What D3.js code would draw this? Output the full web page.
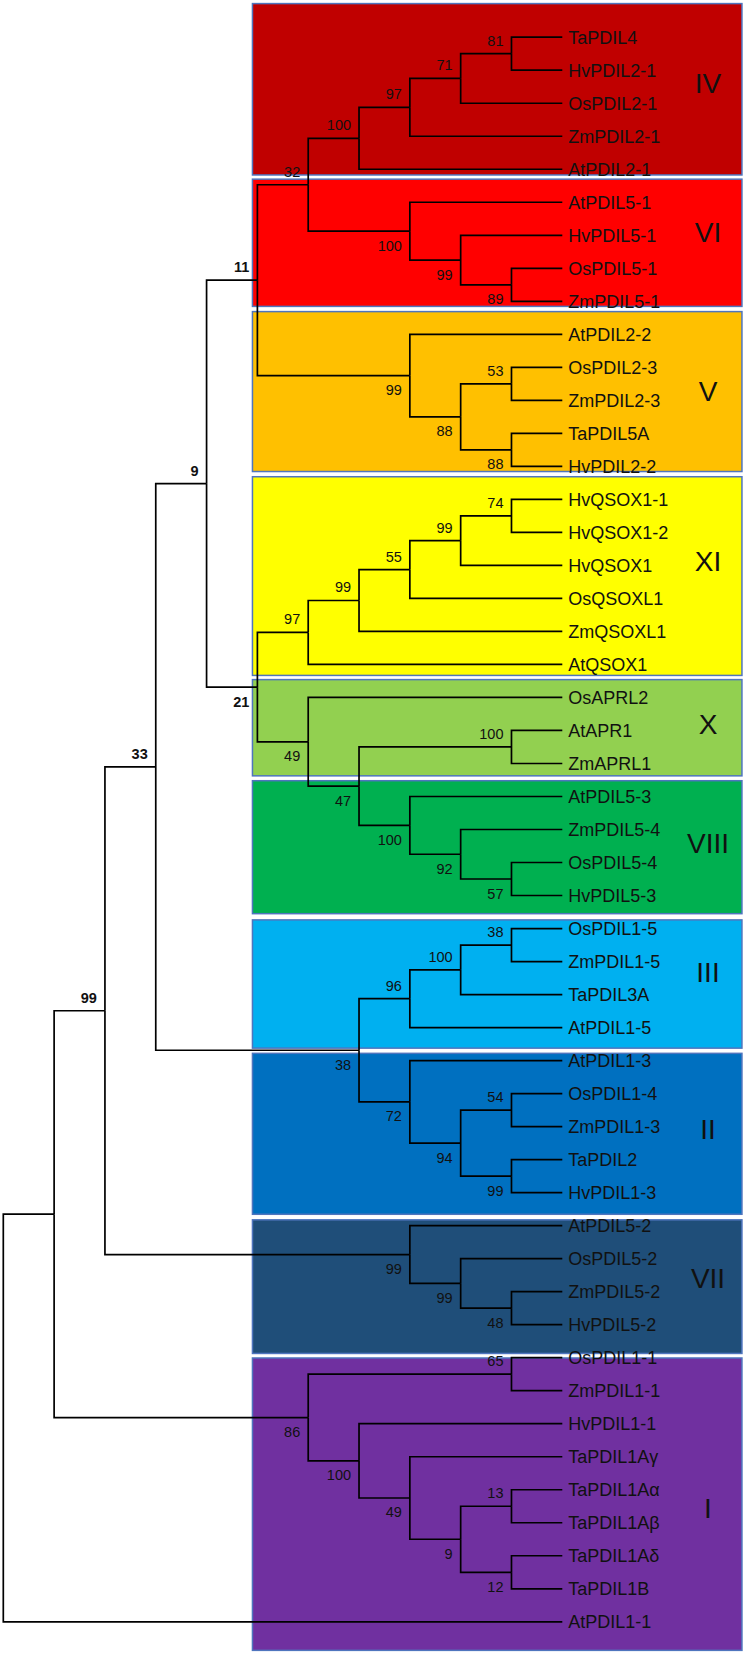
<!DOCTYPE html>
<html>
<head>
<meta charset="utf-8">
<script src="https://cdn.jsdelivr.net/npm/d3@7"></script>
<style>
  html, body { margin: 0; padding: 0; background: #fff; }
  svg { display: block; }
</style>
</head>
<body>
<svg id="chart" width="746" height="1654"></svg>
<script>
// ---------------- DATA ----------------
// Sub-trees (Newick), internal labels = bootstrap support
const cladeIV   = "((((TaPDIL4,HvPDIL2-1)81,OsPDIL2-1)71,ZmPDIL2-1)97,AtPDIL2-1)100";
const cladeVI   = "(AtPDIL5-1,(HvPDIL5-1,(OsPDIL5-1,ZmPDIL5-1)89)99)100";
const cladeV    = "(AtPDIL2-2,((OsPDIL2-3,ZmPDIL2-3)53,(TaPDIL5A,HvPDIL2-2)88)88)99";
const cladeXI   = "(((((HvQSOX1-1,HvQSOX1-2)74,HvQSOX1)99,OsQSOXL1)55,ZmQSOXL1)99,AtQSOX1)97";
const cladeX    = "(AtAPR1,ZmAPRL1)100";
const cladeVIII = "(AtPDIL5-3,(ZmPDIL5-4,(OsPDIL5-4,HvPDIL5-3)57)92)100";
const cladeIII  = "(((OsPDIL1-5,ZmPDIL1-5)38,TaPDIL3A)100,AtPDIL1-5)96";
const cladeII   = "(AtPDIL1-3,((OsPDIL1-4,ZmPDIL1-3)54,(TaPDIL2,HvPDIL1-3)99)94)72";
const cladeVII  = "(AtPDIL5-2,(OsPDIL5-2,(ZmPDIL5-2,HvPDIL5-2)48)99)99";
const cladeI    = "((OsPDIL1-1,ZmPDIL1-1)65,(HvPDIL1-1,(TaPDIL1Aγ,((TaPDIL1Aα,TaPDIL1Aβ)13,(TaPDIL1Aδ,TaPDIL1B)12)9)49)100)86";

const treeNewick =
  "(((((((" + cladeIV + "," + cladeVI + ")32," + cladeV + ")11," +
  "(" + cladeXI + ",(OsAPRL2,(" + cladeX + "," + cladeVIII + ")47)49)21)9," +
  "(" + cladeIII + "," + cladeII + ")38)33," +
  cladeVII + ")99," + cladeI + "),AtPDIL1-1);";

// Coloured groups
const groupNames  = ["IV", "VI", "V", "XI", "X", "VIII", "III", "II", "VII", "I"];
const groupColors = ["#C00000", "#FF0000", "#FFC000", "#FFFF00", "#92D050", "#00B050", "#00B0F0", "#0070C0", "#1F4E79", "#7030A0"];
// Extent of each coloured band, in leaf-row units (row 0 = first leaf)
const groupTopRow    = [-0.53, 4.68, 8.61, 13.51, 19.53, 22.53, 26.66, 30.62, 35.56, 39.66];
const groupBottomRow = [4.60, 8.50, 13.40, 19.45, 22.43, 26.52, 30.51, 35.44, 39.57, 48.38];
// Row where each group's numeral sits
const groupLabelRow  = [1.85, 6.27, 11.0, 16.02, 20.88, 24.41, 28.22, 32.89, 37.32, 44.14];

// ---------------- PARSER ----------------
function parseNewick(s) {
  let i = 0;
  function readName() {
    const start = i;
    while (i < s.length && !",();".includes(s[i])) i++;
    return s.slice(start, i).trim();
  }
  function node() {
    if (s[i] === "(") {
      i++;
      const children = [];
      children.push(node());
      while (s[i] === ",") { i++; children.push(node()); }
      i++; // ')'
      const lab = readName();
      return { children, support: lab };
    }
    return { name: readName() };
  }
  return node();
}

// ---------------- LAYOUT ----------------
const W = 746, H = 1654;
const originX = 3.3, originY = 20.7;
const treeWidth = 559;          // root -> leaf tip
const treeHeight = 1617.6;      // first leaf -> last leaf
const boxLeft = 251.7, boxRight = 742.7;

const rootNode = d3.hierarchy(parseNewick(treeNewick), d => d.children);
const cluster = d3.cluster().size([treeHeight, treeWidth]).separation(() => 1);
cluster(rootNode);

const PX = d => originX + d.y;
const PY = d => originY + d.x;

const leaves = rootNode.leaves();
const rowScale = d3.scaleLinear().domain([0, leaves.length - 1]).range([originY, originY + treeHeight]);

const svg = d3.select("#chart");
svg.append("rect").attr("width", W).attr("height", H).attr("fill", "#fff");

// ---------------- BOXES ----------------
const groups = groupNames.map((n, k) => ({
  name: n,
  r0: groupTopRow[k],
  r1: groupBottomRow[k],
  color: groupColors[k],
  row: groupLabelRow[k]
}));

svg.append("g").selectAll("rect").data(groups).join("rect")
  .attr("x", boxLeft + 0.75)
  .attr("width", boxRight - boxLeft - 1.5)
  .attr("y", d => rowScale(d.r0) + 0.75)
  .attr("height", d => rowScale(d.r1) - rowScale(d.r0) - 1.5)
  .attr("fill", d => d.color)
  .attr("stroke", "#4F75BE")
  .attr("stroke-width", 1.5);

svg.append("g").selectAll("text").data(groups).join("text")
  .attr("x", 708)
  .attr("y", d => rowScale(d.row))
  .attr("dy", "0.36em")
  .attr("text-anchor", "middle")
  .attr("font-family", "'Liberation Sans', Arial, Helvetica, sans-serif")
  .attr("font-size", 28)
  .attr("fill", "#111")
  .text(d => d.name);

// ---------------- BRANCHES ----------------
svg.append("g")
  .attr("fill", "none")
  .attr("stroke", "#000")
  .attr("stroke-width", 1.7)
  .selectAll("path").data(rootNode.links()).join("path")
  .attr("d", l => `M${PX(l.source)},${PY(l.source)}V${PY(l.target)}H${PX(l.target)}`);

// ---------------- LEAF LABELS ----------------
svg.append("g").selectAll("text").data(leaves).join("text")
  .attr("x", d => PX(d) + 6)
  .attr("y", d => PY(d))
  .attr("dy", "0.36em")
  .attr("font-family", "'Liberation Sans', Arial, Helvetica, sans-serif")
  .attr("font-size", 18)
  .attr("fill", "#111")
  .text(d => d.data.name);

// ---------------- SUPPORT VALUES ----------------
const internal = rootNode.descendants().filter(d => d.children && d.data.support);
svg.append("g").selectAll("text").data(internal).join("text")
  .attr("x", d => PX(d) - 8)
  .attr("y", d => {
    const upper = d.parent && d.parent.children[0] === d;
    return upper ? PY(d) - 8 : PY(d) + 19.5;
  })
  .attr("text-anchor", "end")
  .attr("font-family", "'Liberation Sans', Arial, Helvetica, sans-serif")
  .attr("font-size", 14.5)
  .attr("font-weight", d => (PX(d) - 8 < boxLeft ? "bold" : "normal"))
  .attr("fill", "#111")
  .text(d => d.data.support);
</script>
</body>
</html>
